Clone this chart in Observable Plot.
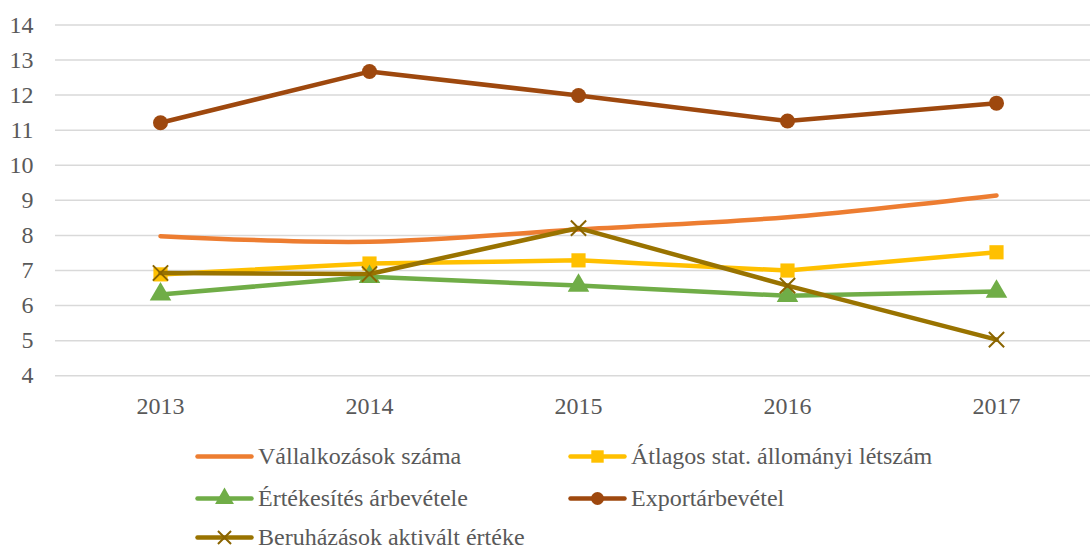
<!DOCTYPE html>
<html>
<head>
<meta charset="utf-8">
<script src="https://cdn.jsdelivr.net/npm/d3@7"></script>
<script src="https://cdn.jsdelivr.net/npm/@observablehq/plot@0.6"></script>
<style>
  html, body { margin: 0; padding: 0; background: #fff; }
  #wrap { width: 1090px; height: 548px; position: relative; font-family: "Times New Roman", "Liberation Serif", serif; }
  #legend { position: relative; width: 1090px; height: 118px; color: #595959; font-size: 24px; }
  .item { position: absolute; display: flex; align-items: center; white-space: nowrap; }
  .item svg { margin-right: 5px; }
  .item span { line-height: 1; }
</style>
</head>
<body>
<div id="wrap">
  <div id="chart"></div>
  <div id="legend"></div>
</div>
<script>
const years = ["2013", "2014", "2015", "2016", "2017"];
const vallalkozasok = [7.98, 7.82, 8.17, 8.52, 9.14];
const atlagos = [6.89, 7.20, 7.29, 7.00, 7.52];
const ertekesites = [6.32, 6.82, 6.57, 6.28, 6.40];
const exportArbevetel = [11.21, 12.67, 11.99, 11.26, 11.77];
const beruhazasok = [6.93, 6.90, 8.21, 6.57, 5.03];
const yTicks = [4, 5, 6, 7, 8, 9, 10, 11, 12, 13, 14];

const seriesNames = [
  "Vállalkozások száma",
  "Átlagos stat. állományi létszám",
  "Értékesítés árbevétele",
  "Exportárbevétel",
  "Beruházások aktivált értéke"
];
const seriesValues = [vallalkozasok, atlagos, ertekesites, exportArbevetel, beruhazasok];
const seriesColors = ["#ED7D31", "#FFC000", "#70AD47", "#9E480E", "#997300"];
const seriesSymbols = [null, "square", "triangle", "circle", "times"];

const FONT = "'Times New Roman', 'Liberation Serif', serif";
const rows = (i) => years.map((y, j) => ({year: y, value: seriesValues[i][j], series: seriesNames[i]}));

const marks = [
  Plot.gridY(yTicks, {stroke: "#D9D9D9", strokeOpacity: 1, strokeWidth: 1.5})
];
seriesNames.forEach((name, i) => {
  const data = rows(i);
  marks.push(Plot.line(data, {
    x: "year", y: "value",
    stroke: seriesColors[i], strokeWidth: 4.5,
    strokeLinejoin: "round", strokeLinecap: "round",
    curve: i === 0 ? "catmull-rom" : "linear"
  }));
  const sym = seriesSymbols[i];
  if (sym === "times") {
    marks.push(Plot.dot(data, {x: "year", y: "value", symbol: "times", r: 7, stroke: "#8a6400", strokeWidth: 2, fill: "none"}));
  } else if (sym === "circle") {
    marks.push(Plot.dot(data, {x: "year", y: "value", symbol: "circle", r: 7.5, fill: seriesColors[i], stroke: "none"}));
  } else if (sym === "square") {
    marks.push(Plot.dot(data, {x: "year", y: "value", symbol: "square", r: 8, fill: seriesColors[i], stroke: "none"}));
  } else if (sym === "triangle") {
    marks.push(Plot.dot(data, {x: "year", y: "value", symbol: "triangle", r: 8, fill: seriesColors[i], stroke: "none"}));
  }
});
marks.push(Plot.axisY(yTicks, {tickSize: 0, tickPadding: 22, fontSize: 24, fill: "#595959", fontFamily: FONT}));
marks.push(Plot.axisX({tickSize: 0, tickPadding: 21, fontSize: 24, fill: "#595959", fontFamily: FONT}));

const chart = Plot.plot({
  width: 1090,
  height: 430,
  marginLeft: 55,
  marginRight: 0,
  marginTop: 24.4,
  marginBottom: 54.7,
  style: {fontFamily: FONT, background: "#fff", overflow: "visible"},
  x: {type: "point", domain: years, range: [159, 997], padding: 0, label: null},
  y: {domain: [4, 14], label: null},
  marks
});
document.getElementById("chart").appendChild(chart);

// Legend
const legend = document.getElementById("legend");
const legendPos = [[195, 26], [568, 26], [195, 68], [568, 68], [195, 107]];
seriesNames.forEach((name, i) => {
  const div = document.createElement("div");
  div.className = "item";
  div.style.left = legendPos[i][0] + "px";
  div.style.top = (legendPos[i][1] - 14) + "px";
  div.style.height = "28px";
  const sw = Plot.plot({
    width: 58, height: 28, margin: 0,
    x: {domain: [0, 1], range: [2, 56], axis: null},
    y: {domain: [0, 1], range: [28, 0], axis: null},
    style: {background: "transparent", overflow: "visible"},
    marks: [
      Plot.line([[0, 0.5], [1, 0.5]], {stroke: seriesColors[i], strokeWidth: 4.5, strokeLinecap: "round"}),
      seriesSymbols[i] === "times"
        ? Plot.dot([[0.5, 0.5]], {symbol: "times", r: 6, stroke: "#8a6400", strokeWidth: 2, fill: "none"})
        : seriesSymbols[i]
          ? Plot.dot([[0.5, 0.5]], {symbol: seriesSymbols[i], r: seriesSymbols[i] === "circle" ? 6.5 : 7, fill: seriesColors[i], stroke: "none"})
          : null
    ]
  });
  div.appendChild(sw);
  const span = document.createElement("span");
  span.textContent = name;
  div.appendChild(span);
  legend.appendChild(div);
});
</script>
</body>
</html>
